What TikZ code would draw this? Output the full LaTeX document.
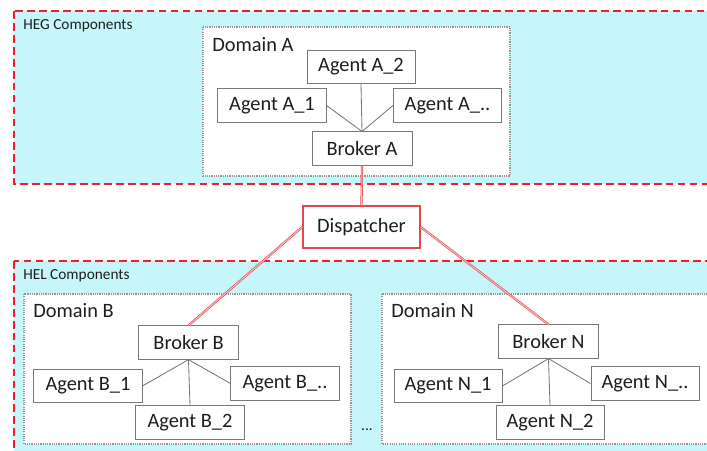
\documentclass[tikz,border=0pt]{standalone}
\usepackage{fontspec}
\setmainfont{Carlito}
\usepackage{xcolor}
\usepackage{tikz}
\usetikzlibrary{positioning,calc}

\definecolor{regionfill}{RGB}{199,246,250}
\definecolor{regionline}{RGB}{240,30,40}
\definecolor{boxline}{RGB}{120,120,120}
\definecolor{domline}{RGB}{150,150,150}
\definecolor{linkred}{RGB}{230,70,80}
\definecolor{txt}{RGB}{30,30,30}

\begin{document}
\begin{tikzpicture}[x=0.025cm, y=-0.025cm,
    font=\fontsize{14.5}{17}\selectfont, text=txt,
    region/.style={fill=regionfill, draw=regionline, line width=1.4pt, dash pattern=on 5.5pt off 3pt},
    domainbox/.style={fill=white, draw=domline, line width=0.8pt, dash pattern=on 0.8pt off 0.8pt},
    agent/.style={draw=boxline, fill=white, line width=0.7pt, minimum width=2.7cm, minimum height=0.83cm, inner sep=0pt},
    broker/.style={agent, minimum width=2.5cm},
    dispatch/.style={draw=linkred, fill=white, line width=0.9pt, minimum width=2.93cm, minimum height=1.05cm, inner sep=0pt},
    tag/.style={anchor=base west, inner sep=0pt},
    small/.style={font=\fontsize{10.9}{13}\selectfont},
    member/.style={draw=boxline, line width=0.6pt},
    link/.style={draw=linkred, line width=0.45pt, double=linkred!35, double distance=0.7pt}]
    \useasboundingbox (0,0) rectangle (707,450);
    \clip (0,0) rectangle (707,450);

    % regions
    \draw[region] (14,11) rectangle (730,184);
    \draw[region] (14,261) rectangle (730,480);
    \node[tag, small] (heg) at (23,29) {HEG Components};
    \node[tag, small] (hel) at (23,279) {HEL Components};

    % domains
    \draw[domainbox] (203,27) rectangle (510,176);
    \draw[domainbox] (24,294) rectangle (351,444);
    \draw[domainbox] (382,294) rectangle (730,444);
    \node[tag] (doma) at (212,51) {Domain A};
    \node[tag] (domb) at (33,317) {Domain B};
    \node[tag] (domn) at (391,317) {Domain N};
    \node[small] (more) at (367,430) {...};

    % domain A
    \node[agent] (a2) at (361,67) {Agent A\_2};
    \node[agent] (a1) at (272,105.5) {Agent A\_1};
    \node[agent] (ax) at (447.5,105.5) {Agent A\_..};
    \node[broker] (ba) at (362,148.5) {Broker A};
    \draw[member] (ba.north) -- (a1.east);
    \draw[member] (ba.north) -- (a2.south);
    \draw[member] (ba.north) -- (ax.west);

    % domain B
    \node[broker] (bb) at (188.5,342.5) {Broker B};
    \node[agent] (b1) at (88,386) {Agent B\_1};
    \node[agent] (bx) at (285,383.5) {Agent B\_..};
    \node[agent] (b2) at (190,422.5) {Agent B\_2};
    \draw[member] (bb.south) -- (b1.east);
    \draw[member] (bb.south) -- (b2.north);
    \draw[member] (bb.south) -- (bx.west);

    % domain N
    \node[broker] (bn) at (548.5,341.5) {Broker N};
    \node[agent] (n1) at (448,386) {Agent N\_1};
    \node[agent] (nx) at (645,383.5) {Agent N\_..};
    \node[agent] (n2) at (550,422.5) {Agent N\_2};
    \draw[member] (bn.south) -- (n1.east);
    \draw[member] (bn.south) -- (n2.north);
    \draw[member] (bn.south) -- (nx.west);

    % dispatcher
    \node[dispatch] (disp) at (361.5,227) {Dispatcher};
    \draw[link] (ba.south) -- (disp.north);
    \draw[link] (disp.west) -- (bb.north);
    \draw[link] (disp.east) -- (bn.north);
\end{tikzpicture}
\end{document}
